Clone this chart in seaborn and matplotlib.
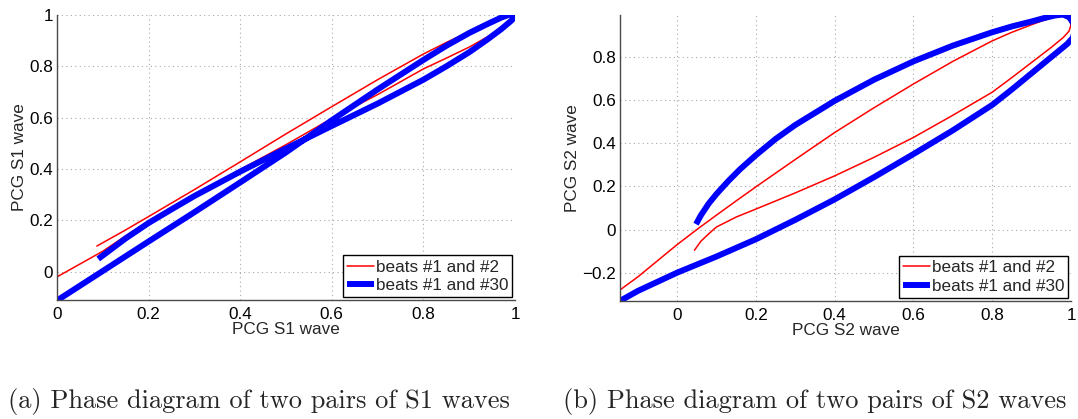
import numpy as np
import pandas as pd
import matplotlib
matplotlib.use("Agg")
import matplotlib.pyplot as plt
import seaborn as sns

# ---------------- data ----------------
# Panel (a): S1 phase diagram
s1_red_x = [0.087, 0.15, 0.2, 0.3, 0.4, 0.5, 0.6, 0.7, 0.8, 0.85, 0.9, 0.94, 0.97, 0.99, 1.0,
            0.995, 0.98, 0.95, 0.9, 0.85, 0.8, 0.7, 0.6, 0.5, 0.4, 0.3, 0.2, 0.15, 0.1, 0.05, 0.0, -0.02]
s1_red_y = [0.10, 0.163, 0.215, 0.32, 0.428, 0.537, 0.643, 0.748, 0.848, 0.893, 0.935, 0.963, 0.983, 0.995, 0.998,
            0.985, 0.96, 0.925, 0.875, 0.832, 0.79, 0.69, 0.597, 0.495, 0.398, 0.298, 0.196, 0.14, 0.08, 0.03, -0.02, -0.038]
s1_blue_x = [0.09, 0.12, 0.15, 0.2, 0.25, 0.3, 0.4, 0.5, 0.6, 0.7, 0.8, 0.85, 0.9, 0.94, 0.97, 0.99, 1.0, 1.0,
             0.99, 0.97, 0.94, 0.9, 0.85, 0.8, 0.7, 0.6, 0.5, 0.4, 0.3, 0.2, 0.1, 0.0, -0.02]
s1_blue_y = [0.05, 0.09, 0.13, 0.19, 0.243, 0.295, 0.39, 0.48, 0.568, 0.655, 0.748, 0.80, 0.855, 0.905, 0.945, 0.975, 0.992, 1.0,
             1.003, 0.99, 0.965, 0.93, 0.88, 0.825, 0.71, 0.59, 0.465, 0.348, 0.232, 0.118, 0.003, -0.112, -0.135]

# Panel (b): S2 phase diagram
s2_red_x = [-0.16, -0.145, -0.1, -0.05, 0.0, 0.05, 0.1, 0.15, 0.2, 0.3, 0.4, 0.5, 0.6, 0.7, 0.8, 0.85, 0.9,
            0.93, 0.96, 0.98, 0.995, 1.0, 0.995, 0.98, 0.95, 0.9, 0.85, 0.8, 0.7, 0.6, 0.5, 0.4, 0.3, 0.2,
            0.15, 0.1, 0.08, 0.06, 0.044]
s2_red_y = [-0.30, -0.28, -0.22, -0.145, -0.07, 0.0, 0.067, 0.133, 0.198, 0.325, 0.45, 0.565, 0.675, 0.78, 0.875, 0.915, 0.95,
            0.97, 0.988, 0.99, 0.975, 0.95, 0.92, 0.89, 0.845, 0.775, 0.705, 0.637, 0.53, 0.427, 0.335, 0.249, 0.17, 0.095,
            0.058, 0.012, -0.02, -0.055, -0.096]
s2_blue_x = [0.048, 0.06, 0.08, 0.1, 0.13, 0.16, 0.2, 0.25, 0.3, 0.4, 0.5, 0.6, 0.7, 0.8, 0.85, 0.9, 0.93, 0.96, 0.98,
             0.995, 1.005, 1.01, 1.005, 0.99, 0.97, 0.95, 0.9, 0.85, 0.8, 0.7, 0.6, 0.5, 0.4, 0.3, 0.2, 0.1, 0.0,
             -0.1, -0.145, -0.17]
s2_blue_y = [0.025, 0.065, 0.12, 0.165, 0.225, 0.28, 0.345, 0.42, 0.485, 0.597, 0.695, 0.78, 0.853, 0.915, 0.942, 0.965, 0.98, 0.993, 0.997,
             0.985, 0.96, 0.925, 0.89, 0.86, 0.83, 0.80, 0.725, 0.65, 0.578, 0.46, 0.35, 0.243, 0.14, 0.045, -0.045, -0.125, -0.20,
             -0.285, -0.331, -0.355]

legend_labels = ["beats #1 and #2", "beats #1 and #30"]
captions = ["(a) Phase diagram of two pairs of S1 waves",
            "(b) Phase diagram of two pairs of S2 waves"]
x_labels = ["PCG S1 wave", "PCG S2 wave"]
y_labels = ["PCG S1 wave", "PCG S2 wave"]
xticks_a = [0, 0.2, 0.4, 0.6, 0.8, 1]
yticks_a = [0, 0.2, 0.4, 0.6, 0.8, 1]
xticks_b = [0, 0.2, 0.4, 0.6, 0.8, 1]
yticks_b = [-0.2, 0, 0.2, 0.4, 0.6, 0.8]

# ---------------- style ----------------
sns.set_style("white")
plt.rcParams["font.family"] = ["Liberation Sans", "DejaVu Sans"]
plt.rcParams["axes.unicode_minus"] = True

fig = plt.figure(figsize=(10.78, 4.19), dpi=100)
ax_a = fig.add_axes([57 / 1078, 1 - 300 / 419, 458 / 1078, 285 / 419])
ax_b = fig.add_axes([620 / 1078, 1 - 300.7 / 419, 451 / 1078, 285.7 / 419])

RED = "#ff0000"
BLUE = "#0000ff"
FS = 12.3


def fmt(v):
    if abs(v) < 1e-9:
        return "0"
    if abs(v - round(v)) < 1e-9:
        return str(int(round(v)))
    s = f"{v:g}"
    return s.replace("-", "\u2212")


def draw(ax, rx, ry, bx, by, xlim, ylim, xt, yt, xl, yl):
    df_r = pd.DataFrame({"x": rx, "y": ry})
    df_b = pd.DataFrame({"x": bx, "y": by})
    sns.lineplot(data=df_r, x="x", y="y", sort=False, estimator=None, ax=ax,
                 color=RED, linewidth=1.1, label=legend_labels[0])
    sns.lineplot(data=df_b, x="x", y="y", sort=False, estimator=None, ax=ax,
                 color=BLUE, linewidth=4.3, label=legend_labels[1],
                 solid_capstyle="butt", solid_joinstyle="round")
    ax.set_xlim(*xlim)
    ax.set_ylim(*ylim)
    ax.set_xticks(xt)
    ax.set_yticks(yt)
    ax.set_xticklabels([fmt(v) for v in xt])
    ax.set_yticklabels([fmt(v) for v in yt])
    ax.grid(True, color="#a8a8a8", linestyle=(0, (1, 3)), linewidth=0.8)
    ax.set_axisbelow(True)
    for s in ["top", "right"]:
        ax.spines[s].set_visible(False)
    for s in ["left", "bottom"]:
        ax.spines[s].set_color("#4a4a4a")
        ax.spines[s].set_linewidth(1.0)
    ax.tick_params(direction="in", length=3, width=0.8, color="#4a4a4a",
                   labelsize=FS, labelcolor="black")
    ax.tick_params(axis="x", pad=5)
    ax.tick_params(axis="y", pad=3)
    ax.set_xlabel(xl, fontsize=FS, labelpad=0)
    ax.set_ylabel(yl, fontsize=FS, labelpad=1.5)
    leg = ax.legend(loc="lower right", fontsize=FS, frameon=True, fancybox=False,
                    framealpha=1, edgecolor="black", borderaxespad=0.15,
                    handlelength=1.55, handletextpad=0.12, labelspacing=0.2,
                    borderpad=0.25)
    leg.get_frame().set_linewidth(1.0)


draw(ax_a, s1_red_x, s1_red_y, s1_blue_x, s1_blue_y, (0, 1), (-0.11, 1.0),
     xticks_a, yticks_a, x_labels[0], y_labels[0])
draw(ax_b, s2_red_x, s2_red_y, s2_blue_x, s2_blue_y, (-0.145, 1), (-0.33, 0.995),
     xticks_b, yticks_b, x_labels[1], y_labels[1])

fig.text(259 / 1078, 1 - 401 / 419, captions[0], ha="center", va="center",
         fontsize=19, family="cmr10")
fig.text(815 / 1078, 1 - 401 / 419, captions[1], ha="center", va="center",
         fontsize=19, family="cmr10")

fig.savefig("out.png", dpi=100)
